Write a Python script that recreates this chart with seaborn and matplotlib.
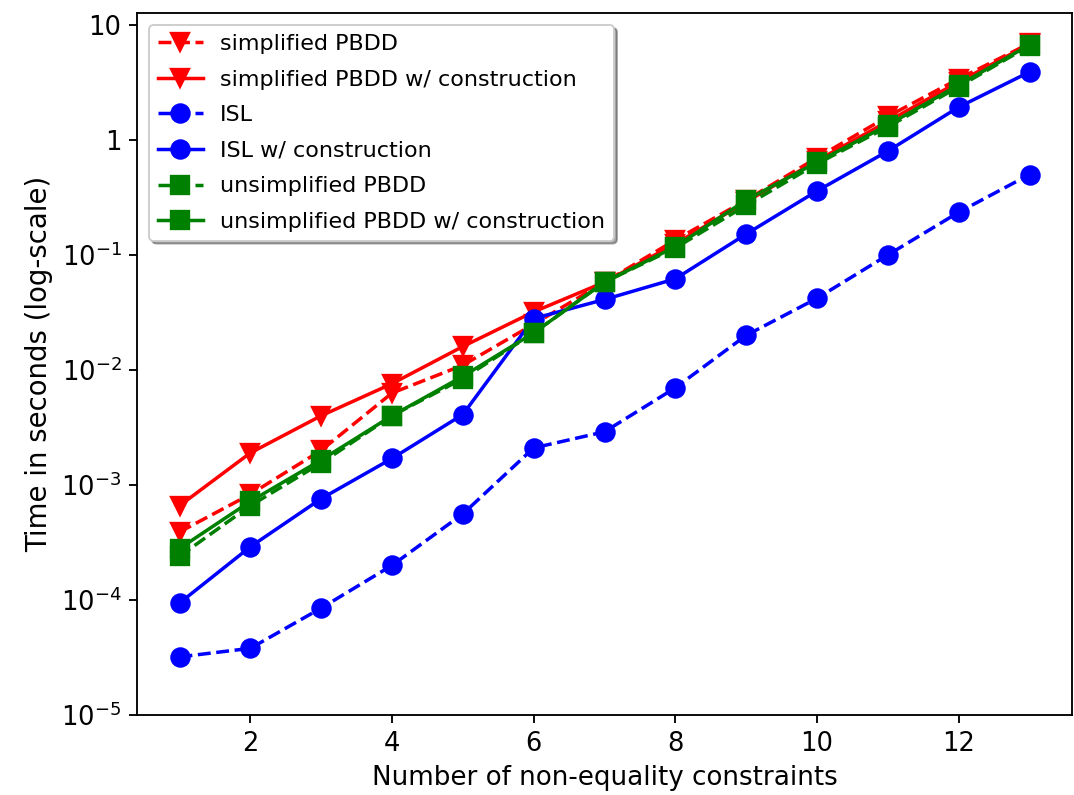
import matplotlib
matplotlib.use("Agg")
import matplotlib.pyplot as plt
import seaborn as sns
import pandas as pd
import numpy as np

x_vals = [1, 2, 3, 4, 5, 6, 7, 8, 9, 10, 11, 12, 13]
simplified = [3.9e-4, 8.3e-4, 2.0e-3, 6.3e-3, 1.1e-2, 2.5e-2, 5.8e-2, 0.135, 0.30, 0.70, 1.6, 3.4, 6.9]
simplified_con = [6.6e-4, 1.9e-3, 4.0e-3, 7.6e-3, 1.6e-2, 3.2e-2, 5.8e-2, 0.125, 0.29, 0.66, 1.45, 3.2, 6.8]
isl = [3.2e-5, 3.8e-5, 8.5e-5, 2.0e-4, 5.6e-4, 2.1e-3, 2.9e-3, 7.0e-3, 2.0e-2, 4.2e-2, 0.10, 0.235, 0.50]
isl_con = [9.4e-5, 2.9e-4, 7.6e-4, 1.7e-3, 4.1e-3, 2.8e-2, 4.1e-2, 6.2e-2, 0.152, 0.36, 0.80, 1.93, 3.9]
unsimplified = [2.4e-4, 6.6e-4, 1.55e-3, 4.0e-3, 8.4e-3, 2.1e-2, 5.8e-2, 0.115, 0.27, 0.62, 1.3, 2.9, 6.6]
unsimplified_con = [2.8e-4, 7.2e-4, 1.65e-3, 4.0e-3, 8.8e-3, 2.1e-2, 5.8e-2, 0.118, 0.30, 0.64, 1.35, 3.0, 6.7]

labels = ["simplified PBDD", "simplified PBDD w/ construction", "ISL",
          "ISL w/ construction", "unsimplified PBDD", "unsimplified PBDD w/ construction"]
series = [simplified, simplified_con, isl, isl_con, unsimplified, unsimplified_con]
colors = ["red", "red", "blue", "blue", "green", "green"]
styles = ["--", "-", "--", "-", "--", "-"]
markers = ["v", "v", "o", "o", "s", "s"]

S = 1.675
plt.rcParams["font.family"] = ["DejaVu Sans"]
plt.rcParams["font.size"] = 10 * S

fig = plt.figure(figsize=(10.74, 7.95), dpi=100)
ax = fig.add_axes([137/1074, 1 - 715/795, (1072-137)/1074, (715-13)/795])

for lab, ys, c, ls, m in zip(labels, series, colors, styles, markers):
    df = pd.DataFrame({"x": x_vals, "y": ys})
    sns.lineplot(data=df, x="x", y="y", ax=ax, color=c, linestyle=ls, marker=m,
                 markersize=7.8 * S, markeredgecolor=c, markeredgewidth=1.0 * S,
                 linewidth=1.5 * S, label=lab, errorbar=None)

ax.set_yscale("log")
ax.set_ylim(1e-5, 12.7)
ax.set_xlim(0.4, 13.6)
yt = [1e-5, 1e-4, 1e-3, 1e-2, 1e-1, 1, 10]
ytl = [r"$10^{-5}$", r"$10^{-4}$", r"$10^{-3}$", r"$10^{-2}$", r"$10^{-1}$", "1", "10"]
ax.set_yticks(yt)
ax.set_yticklabels(ytl)
ax.yaxis.set_minor_locator(matplotlib.ticker.NullLocator())
ax.set_xticks([2, 4, 6, 8, 10, 12])
ax.tick_params(length=3.5 * S, width=0.8 * S, labelsize=18.5, pad=3.2 * S)
for sp in ax.spines.values():
    sp.set_linewidth(0.8 * S)

ax.set_xlabel("Number of non-equality constraints", fontsize=18.8, labelpad=3.5 * S)
ax.set_ylabel("Time in seconds (log-scale)", fontsize=19.8, labelpad=3.5 * S)

leg = ax.legend(loc="upper left", shadow=True, fancybox=True, fontsize=16,
                handlelength=2.0, labelspacing=0.7, borderaxespad=0.55)
leg.get_frame().set_linewidth(0.8 * S)

fig.savefig("out.png", dpi=100)
